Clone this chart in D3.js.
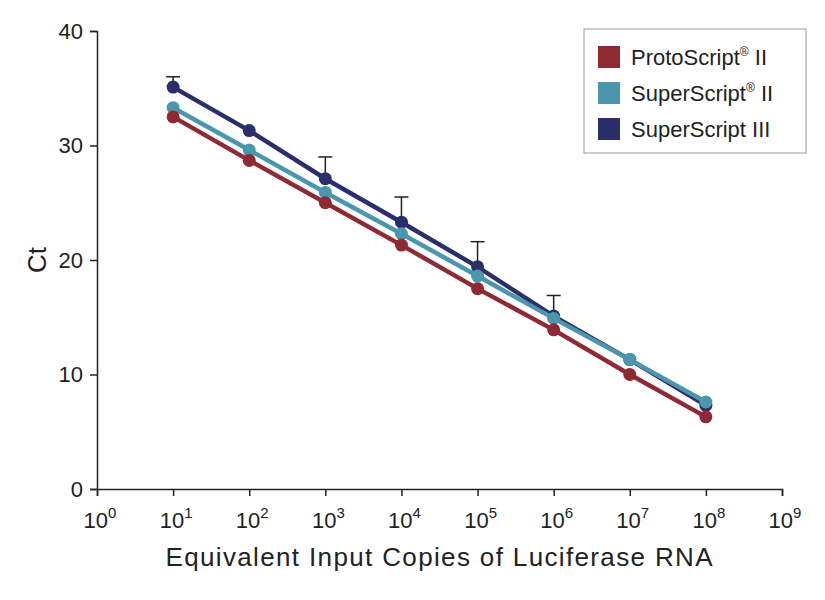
<!DOCTYPE html><html><head><meta charset="utf-8">
<script src="https://cdn.jsdelivr.net/npm/d3@7"></script>
<style>body{margin:0;background:#fff}text{font-family:"Liberation Sans",Arial,sans-serif;fill:#222}</style></head><body>
<svg id="c" width="825" height="600"></svg>
<script>
const exponents=[1,2,3,4,5,6,7,8];
const xTickExps=[0,1,2,3,4,5,6,7,8,9];
const yTicks=[0,10,20,30,40];
const proto=[32.5,28.7,25.0,21.3,17.5,13.9,10.0,6.3];
const ss2=[33.3,29.6,25.9,22.3,18.6,14.9,11.3,7.6];
const ss3=[35.1,31.3,27.1,23.3,19.4,15.1,11.3,7.3];
const ss3Err=[0.9,0,1.9,2.2,2.2,1.8,0,0];
const names=["ProtoScript","SuperScript","SuperScript III"];
const colors=["#8e2a33","#4a97ad","#2a2f6b"];
const svg=d3.select("#c");
const x=d3.scaleLinear().domain([0,9]).range([97,782]);
const y=d3.scaleLinear().domain([0,40]).range([489,31]);
const xa=svg.append("g").attr("transform","translate(0,489)").call(d3.axisBottom(x).tickValues(xTickExps).tickSize(7).tickFormat(""));
xa.selectAll("line,path").attr("stroke","#222").attr("stroke-width",1.5);
xTickExps.forEach(e=>{const t=svg.append("text").attr("x",x(e)+3).attr("y",528).attr("text-anchor","middle").attr("font-size",22);
t.append("tspan").text("10");t.append("tspan").attr("dy",-10).attr("font-size",15).text(e);});
const ya=svg.append("g").attr("transform","translate(97,0)").call(d3.axisLeft(y).tickValues(yTicks).tickSize(7));
ya.selectAll("line,path").attr("stroke","#222").attr("stroke-width",1.5);
ya.selectAll("text").attr("font-size",22).attr("x",-14).style("font-family","Liberation Sans,Arial");
svg.append("text").attr("x",439).attr("y",566).attr("text-anchor","middle").attr("font-size",26).attr("textLength",547).text("Equivalent Input Copies of Luciferase RNA");
svg.append("text").attr("transform","translate(46,260) rotate(-90)").attr("text-anchor","middle").attr("font-size",26).text("Ct");
exponents.forEach((e,i)=>{if(ss3Err[i]>0){const top=ss3[i]+ss3Err[i];
svg.append("line").attr("x1",x(e)).attr("x2",x(e)).attr("y1",y(ss3[i])).attr("y2",y(top)).attr("stroke","#222").attr("stroke-width",1.5);
svg.append("line").attr("x1",x(e)-7).attr("x2",x(e)+7).attr("y1",y(top)).attr("y2",y(top)).attr("stroke","#222").attr("stroke-width",1.5);}});
const line=d3.line().x((d,i)=>x(exponents[i])).y(d=>y(d));
[[ss3,2],[ss2,1],[proto,0]].forEach(([s,k])=>{
svg.append("path").datum(s).attr("d",line).attr("fill","none").attr("stroke",colors[k]).attr("stroke-width",4.5);
svg.selectAll(null).data(s).enter().append("circle").attr("cx",(d,i)=>x(exponents[i])).attr("cy",d=>y(d)).attr("r",6.5).attr("fill",colors[k]);});
svg.append("rect").attr("x",584).attr("y",29).attr("width",222).attr("height",124).attr("fill","#fff").attr("stroke","#999").attr("stroke-width",1);
names.forEach((n,i)=>{const yy=57+i*36;
svg.append("rect").attr("x",598).attr("y",yy-11).attr("width",22).attr("height",22).attr("fill",colors[i]);
const t=svg.append("text").attr("x",631).attr("y",yy+8).attr("font-size",22);
t.append("tspan").text(n);
if(i<2){t.append("tspan").attr("dy",-9).attr("font-size",12).text("®");t.append("tspan").attr("dy",9).text(" II");}});
</script></body></html>
